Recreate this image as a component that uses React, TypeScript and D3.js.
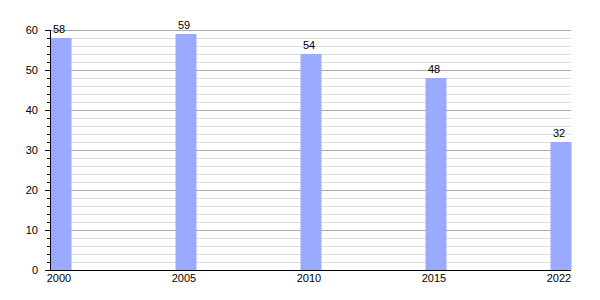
import React from "react";
import * as d3 from "d3";

const years = ["2000", "2005", "2010", "2015", "2022"];
const values = [58, 59, 54, 48, 32];
const majorTicks = [0, 10, 20, 30, 40, 50, 60];

export default function App() {
  const W = 600, H = 300;
  const x0 = 50, x1 = 571, yTop = 30, yBot = 270;
  const y = d3.scaleLinear().domain([0, 60]).range([yBot, yTop]);
  const x = d3.scalePoint<string>().domain(years).range([61, 561]);
  const bw = 21;
  const minor = d3.range(0, 61, 2);
  const font = "'Liberation Sans', Arial, sans-serif";
  return (
    <svg width={W} height={H} style={{ position: "absolute", left: 0, top: 0 }}>
      <rect width={W} height={H} fill="#fff" />
      {minor.filter((v) => v % 10 !== 0).map((v) => (
        <line key={"m" + v} x1={x0} x2={x1} y1={Math.round(y(v)) + 0.5} y2={Math.round(y(v)) + 0.5} stroke="#dddddd" />
      ))}
      {majorTicks.filter((v) => v !== 0).map((v) => (
        <line key={"g" + v} x1={x0} x2={x1} y1={Math.round(y(v)) + 0.5} y2={Math.round(y(v)) + 0.5} stroke="#aaaaaa" />
      ))}
      {years.map((yr, i) => (
        <rect key={yr} x={(x(yr) as number) - bw / 2} y={y(values[i])} width={bw} height={yBot - y(values[i])} fill="#99aaff" />
      ))}
      {minor.map((v) => (
        <line key={"t" + v} x1={v % 10 === 0 ? x0 - 5 : x0 - 3} x2={x0} y1={Math.round(y(v)) + 0.5} y2={Math.round(y(v)) + 0.5} stroke="#000" />
      ))}
      <line x1={x0 + 0.5} x2={x0 + 0.5} y1={yTop} y2={yBot} stroke="#000" />
      <line x1={x0} x2={x1} y1={yBot + 0.5} y2={yBot + 0.5} stroke="#000" />
      {majorTicks.map((v) => (
        <text key={"l" + v} x={38} y={y(v) + 4} textAnchor="end" fontSize={11} fontFamily={font} fill="#000">{v}</text>
      ))}
      {years.map((yr, i) => (
        <g key={"v" + yr}>
          <text x={(x(yr) as number) - 2} y={y(values[i]) - 5} textAnchor="middle" fontSize={11} fontFamily={font} fill="#000">{values[i]}</text>
          <text x={(x(yr) as number) - 2} y={282} textAnchor="middle" fontSize={11} fontFamily={font} fill="#000">{yr}</text>
        </g>
      ))}
    </svg>
  );
}
